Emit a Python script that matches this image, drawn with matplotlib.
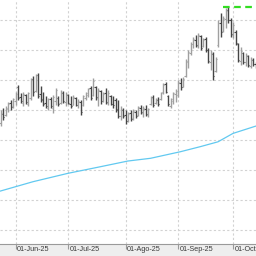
import pandas as pd
import numpy as np
import matplotlib
matplotlib.use("Agg")
import matplotlib.pyplot as plt

# daily OHLC bars (one per business day, starting 23-May-25)
dates = pd.bdate_range("2025-05-23", periods=103)

highs = [60.0, 60.3, 60.7, 61.3, 61.7, 62.0, 63.0, 64.2, 62.8, 63.0,
         62.7, 63.0, 65.3, 65.7, 66.0, 66.2, 64.0, 63.0, 62.3, 62.0,
         62.2, 62.5, 63.7, 62.3, 63.3, 63.2, 63.0, 62.7, 62.3, 62.5,
         62.2, 61.8, 61.7, 62.5, 63.0, 63.7, 64.0, 65.3, 64.0, 63.7,
         63.3, 63.0, 63.7, 63.3, 62.5, 62.3, 62.0, 61.7, 60.7, 60.3,
         60.0, 59.7, 60.0, 60.2, 60.0, 60.7, 60.8, 60.7, 60.8, 60.3,
         62.3, 62.5, 62.0, 62.2, 63.0, 64.5, 64.7, 62.5, 62.0, 63.0,
         63.5, 65.0, 65.3, 65.5, 68.5, 70.0, 71.3, 72.2, 72.5, 72.8,
         72.5, 72.0, 72.2, 70.3, 70.0, 69.7, 68.8, 75.0, 76.2, 75.7,
         77.0, 77.2, 75.3, 74.7, 73.3, 71.2, 70.5, 69.7, 69.5, 69.2,
         68.8, 68.7, 68.0]
lows = [57.3, 58.3, 59.0, 59.7, 60.0, 60.3, 60.8, 61.7, 61.2, 60.7,
        61.0, 60.7, 61.7, 62.3, 63.0, 62.0, 61.3, 60.7, 60.3, 60.0,
        60.3, 59.5, 60.8, 60.7, 61.0, 61.2, 60.7, 61.0, 60.3, 60.8,
        60.7, 60.3, 59.2, 60.7, 61.7, 62.2, 61.7, 62.3, 61.7, 60.7,
        61.0, 61.3, 61.0, 60.8, 60.8, 60.3, 59.7, 58.7, 58.3, 58.7,
        57.7, 58.0, 58.2, 58.3, 58.7, 59.0, 59.3, 58.8, 59.0, 58.8,
        60.8, 60.5, 61.0, 60.7, 61.7, 62.7, 62.8, 60.7, 60.3, 61.0,
        61.3, 62.2, 63.3, 63.8, 65.5, 67.0, 69.2, 70.3, 70.5, 70.3,
        70.0, 70.5, 69.7, 67.8, 66.7, 65.0, 66.3, 70.5, 72.2, 73.0,
        73.7, 74.5, 72.2, 72.0, 70.8, 68.0, 67.5, 67.7, 67.3, 67.2,
        67.0, 67.3, 67.0]
opens = [57.8, 59.4, 59.2, 60.2, 61.2, 60.6, 61.5, 63.8, 62.2, 61.2,
         62.5, 61.0, 62.0, 65.2, 63.2, 65.9, 62.6, 61.8, 61.2, 60.4,
         61.9, 60.4, 61.5, 62.0, 61.2, 62.9, 61.4, 62.5, 61.0, 60.9,
         62.0, 60.8, 61.4, 60.8, 62.0, 62.5, 63.7, 62.5, 63.8, 62.0,
         63.2, 61.5, 62.8, 61.2, 62.3, 61.0, 61.6, 60.2, 59.0, 60.0,
         59.2, 58.2, 59.5, 58.6, 59.7, 59.2, 60.4, 59.5, 60.2, 59.2,
         61.0, 62.1, 61.2, 61.7, 61.8, 63.0, 64.3, 62.3, 60.6, 61.5,
         62.6, 62.5, 64.5, 63.9, 65.6, 68.0, 69.5, 71.0, 71.7, 70.6,
         72.3, 70.6, 71.8, 70.0, 68.0, 69.4, 66.5, 70.8, 74.5, 73.2,
         75.2, 76.6, 75.0, 72.5, 73.0, 71.0, 68.2, 69.5, 68.0, 69.0,
         67.4, 68.4, 67.6]
closes = [59.5, 58.8, 60.4, 61.0, 60.5, 61.8, 62.6, 62.0, 61.5, 62.7,
          61.3, 62.8, 65.0, 63.0, 65.8, 62.4, 61.6, 61.0, 60.6, 61.8,
          60.6, 62.1, 63.4, 61.0, 63.0, 61.5, 62.6, 61.2, 60.6, 62.2,
          60.9, 61.5, 59.6, 62.3, 62.8, 63.5, 62.0, 64.8, 62.2, 63.4,
          61.5, 62.6, 61.4, 62.9, 61.0, 60.8, 60.0, 59.0, 60.2, 59.0,
          58.1, 59.4, 58.5, 59.8, 59.0, 60.5, 59.6, 60.3, 59.4, 60.1,
          62.0, 60.9, 61.8, 61.0, 62.8, 64.2, 63.0, 61.0, 61.8, 62.8,
          63.2, 64.6, 63.8, 65.2, 68.2, 69.7, 71.0, 71.8, 70.8, 72.5,
          70.4, 71.7, 70.0, 68.2, 69.5, 65.6, 68.5, 74.5, 73.0, 75.4,
          76.5, 75.0, 72.6, 74.2, 71.2, 68.4, 69.8, 68.0, 69.1, 67.5,
          68.5, 67.6, 67.2]

# moving average, read at a few bars
ma_idx = [0, 13, 27, 40, 51, 60, 72, 80, 87, 93, 102]
ma_val = [46.5, 48.05, 49.45, 50.55, 51.5, 51.95, 53.05, 53.9, 54.7, 56.1, 57.3]

peak_level = 77.2
peak_start = 89

tick_dates = ["2025-06-02", "2025-07-01", "2025-08-01", "2025-09-01", "2025-10-01"]
tick_labels = ["01-Jun-25", "01-Jul-25", "01-Ago-25", "01-Sep-25", "01-Oct-25"]
grid_levels = [40, 45, 50, 55, 60, 65, 70, 75]

df = pd.DataFrame({"date": dates, "open": opens, "high": highs,
                   "low": lows, "close": closes})
x = np.arange(len(df))
up = df["close"] >= df["open"]
colors = np.where(up, "#a0a0a0", "#454545")

fig = plt.figure(figsize=(2.56, 2.56), dpi=100)
fig.set_facecolor("#eeeeee")
ax = fig.add_axes([0, 12 / 256, 1, 244 / 256])
ax.set_facecolor("white")

# grid
for g in grid_levels:
    ax.axhline(g, color="#d2d2d2", lw=0.8, linestyle=(0, (2, 2)), zorder=0)
tick_pos = [int(np.where(df["date"] == pd.Timestamp(d))[0][0]) for d in tick_dates]
for t in tick_pos:
    ax.axvline(t, color="#d2d2d2", lw=0.8, linestyle=(0, (2, 2)), zorder=0)

# ohlc bars
ax.vlines(x, df["low"], df["high"], colors=colors, lw=1.0, zorder=2)
ax.hlines(df["open"], x - 0.45, x, colors=colors, lw=0.8, zorder=2)
ax.hlines(df["close"], x, x + 0.45, colors=colors, lw=0.8, zorder=2)

# moving average
ax.plot(ma_idx, ma_val, color="#62c9f0", lw=0.9, zorder=3)

# peak marker
ax.hlines(peak_level, peak_start, 106, colors="#33dd22", lw=1.6,
          linestyles=(0, (3, 2)), zorder=4)

ax.set_xlim(-0.2, 102.2)
ax.set_ylim(37.67, 78.33)

for s in ["top", "left", "right"]:
    ax.spines[s].set_visible(False)
ax.spines["bottom"].set_color("#9a9a9a")
ax.spines["bottom"].set_linewidth(0.8)
ax.set_yticks([])
ax.set_xticks(tick_pos)
ax.set_xticklabels([])
ax.tick_params(axis="x", direction="out", length=3.5, width=0.8, color="#9a9a9a")

# the last label runs off the right edge, as in the original screenshot
for t, lab in zip(tick_pos, tick_labels):
    ax.text(t + 0.6, -0.008, lab, transform=ax.get_xaxis_transform(),
            ha="left", va="top", fontsize=5.2, color="#3a3a3a",
            family="Liberation Sans")

fig.savefig("out.png", dpi=100)
